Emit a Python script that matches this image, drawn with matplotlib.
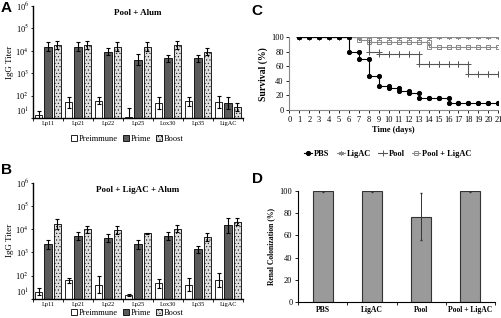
import numpy as np
import matplotlib
matplotlib.use("Agg")
import matplotlib.pyplot as plt
from matplotlib.patches import Patch
from matplotlib.lines import Line2D

plt.rcParams['font.family'] = ['Liberation Serif', 'DejaVu Serif']
plt.rcParams['mathtext.fontset'] = 'stix'
plt.rcParams['hatch.color'] = '#bdbdbd'
plt.rcParams['hatch.linewidth'] = 0.35

# ---------------- data ----------------
antigens = ["Lp11", "Lp21", "Lp22", "Lp25", "Lox30", "Lp35", "LigAC"]
groups_ab = ["Preimmune", "Prime", "Boost"]

# Panel A: Pool + Alum (IgG titer)
a_pre = [13, 51, 60, 11, 48, 55, 51]
a_prime = [15500, 15500, 9000, 4000, 4700, 4700, 48]
a_boost = [18000, 18000, 15500, 15500, 18000, 9000, 31]
# errors in log10 units (dex)
a_pre_err = [0.18, 0.25, 0.15, 0.40, 0.27, 0.20, 0.27]
a_prime_err = [0.20, 0.20, 0.15, 0.25, 0.16, 0.16, 0.27]
a_boost_err = [0.17, 0.17, 0.20, 0.19, 0.16, 0.16, 0.20]

# Panel B: Pool + LigAC + Alum
b_pre = [20, 62, 40, 14, 47, 40, 62]
b_prime = [2200, 5200, 4200, 2200, 5200, 1400, 15000]
b_boost = [17000, 10000, 9100, 6600, 10700, 4600, 21000]
b_pre_err = [0.16, 0.12, 0.37, 0.05, 0.20, 0.28, 0.30]
b_prime_err = [0.18, 0.18, 0.18, 0.18, 0.16, 0.15, 0.33]
b_boost_err = [0.20, 0.15, 0.17, 0.02, 0.15, 0.18, 0.15]

# Panel C: survival (%) per day
days = list(range(1, 22))
surv_pbs = [100, 100, 100, 100, 100, 80, 70, 46.7, 33.3, 30, 26.7, 23.3, 16.7, 16.7,
            16.7, 10, 10, 10, 10, 10, 10]
surv_ligac = [100] * 21
surv_pool = [100, 100, 100, 100, 100, 100, 100, 80, 76.7, 76.7, 76.7, 76.7, 63.3, 63.3,
             63.3, 63.3, 63.3, 50, 50, 50, 50]
surv_poolligac = [100, 100, 100, 100, 100, 100, 96.7, 93.3, 93.3, 93.3, 93.3, 93.3, 93.3,
                  86.7, 86.7, 86.7, 86.7, 86.7, 86.7, 86.7, 86.7]

# Panel D: renal colonization (%)
d_groups = ["PBS", "LigAC", "Pool", "Pool + LigAC"]
d_values = [100, 100, 77, 100]
d_err = [0.5, 0.5, 21, 0.5]

# ---------------- figure ----------------
fig = plt.figure(figsize=(5.01, 3.18), dpi=100)
W, H = 501, 318


def ax_px(l, t, r, b):
    return fig.add_axes([l / W, 1 - b / H, (r - l) / W, (b - t) / H])


bar_cols = ["white", "#5a5a5a", "#dedede"]
hatches = [None, None, "....."]


def titer_panel(ax, pre, prime, boost, epre, eprime, eboost, title, leg_y):
    x = np.arange(len(antigens))
    off = 0.31
    w = 0.25
    for k, (vals, errs) in enumerate([(pre, epre), (prime, eprime), (boost, eboost)]):
        v = np.array(vals, float)
        e = np.array(errs, float)
        lo = v * (1 - 10 ** (-e))
        hi = v * (10 ** e - 1)
        ax.bar(x + (k - 1) * off, v, w, color=bar_cols[k], edgecolor="black",
               linewidth=0.6, hatch=hatches[k],
               yerr=[lo, hi], error_kw=dict(ecolor="black", elinewidth=0.8,
                                            capsize=1.6, capthick=0.8))
    ax.set_yscale("log")
    ax.set_ylim(10, 1e6)
    ax.set_xlim(-0.5, len(antigens) - 0.5)
    ax.set_yticks([10, 1e2, 1e3, 1e4, 1e5, 1e6])
    labs = ax.set_yticklabels([r"10$^{%d}$" % i for i in range(1, 7)], fontsize=6)
    labs[0].set_va("bottom")
    ax.tick_params(axis="y", which="both", length=1.5, width=0.6, pad=1.5)
    ax.set_xticks(x)
    ax.set_xticklabels(antigens, fontsize=4.5)
    ax.set_xticks(np.arange(-0.5, len(antigens)), minor=True)
    ax.tick_params(axis="x", which="major", length=0, pad=2.5)
    ax.tick_params(axis="x", which="minor", length=2, width=0.6)
    for s in ["top", "right"]:
        ax.spines[s].set_visible(False)
    for s in ["left", "bottom"]:
        ax.spines[s].set_linewidth(1.0)
    ax.set_ylabel("IgG Titer", fontsize=6.5, labelpad=1)
    ax.text(0.5, 0.97, title, transform=ax.transAxes, ha="center", va="top",
            fontsize=6.5, fontweight="bold")
    handles = [Patch(facecolor=bar_cols[k], edgecolor="black", linewidth=0.6,
                     hatch=hatches[k], label=groups_ab[k])
               for k in range(3)]
    ax.legend(handles=handles, loc="upper center", bbox_to_anchor=(0.45, leg_y),
              ncol=3, frameon=False, fontsize=6, handlelength=0.7, handleheight=0.7,
              handletextpad=0.25, columnspacing=0.6, borderaxespad=0)


axA = ax_px(33, 6, 243, 118)
titer_panel(axA, a_pre, a_prime, a_boost, a_pre_err, a_prime_err, a_boost_err,
            "Pool + Alum", -0.12)
axB = ax_px(33, 183, 243, 298.7)
titer_panel(axB, b_pre, b_prime, b_boost, b_pre_err, b_prime_err, b_boost_err,
            "Pool + LigAC + Alum", -0.06)

# ---------------- panel C ----------------
axC = ax_px(289.3, 37.3, 498.3, 110)
series = [
    (surv_pbs, "PBS", "black", "o", 3.0, "black"),
    (surv_ligac, "LigAC", "#8a8a8a", (6, 2, 0), 3.5, "#8a8a8a"),
    (surv_pool, "Pool", "#555555", "+", 4.0, "#555555"),
    (surv_poolligac, "Pool + LigAC", "#8a8a8a", "s", 3.0, "none"),
]
for order, (vals, lab, col, mk, ms, mfc) in enumerate(series[::-1]):
    vals = np.array(vals, float)
    d = np.array(days, float)
    axC.plot(d, vals, drawstyle="steps-post", color=col, lw=0.8, zorder=2 + order)
    prev = np.concatenate([[vals[0]], vals[:-1]])
    mx = np.concatenate([d, d])
    my = np.concatenate([vals, prev])
    axC.plot(mx, my, ls="none", marker=mk, ms=ms, color=col, mfc=mfc,
             mec=col, mew=0.7, zorder=2 + order)
axC.set_xlim(0, 21)
axC.set_ylim(0, 100)
axC.set_xticks(range(0, 22))
axC.set_yticks(range(0, 101, 20))
axC.tick_params(labelsize=6, length=2, width=0.6, pad=2)
for s in ["top", "right"]:
    axC.spines[s].set_visible(False)
for s in ["left", "bottom"]:
    axC.spines[s].set_color("#888888")
axC.set_xlabel("Time (days)", fontsize=6, fontweight="bold", labelpad=2)
axC.set_ylabel("Survival (%)", fontsize=7, fontweight="bold", labelpad=2)
leg_handles = [Line2D([0], [0], color=col, lw=0.8, marker=mk, ms=ms, mfc=mfc,
                      mec=col, mew=0.7, label=lab)
               for (vals, lab, col, mk, ms, mfc) in series]
axC.legend(handles=leg_handles, loc="upper center", bbox_to_anchor=(0.47, -0.5),
           ncol=4, frameon=False, handlelength=1.0, handletextpad=0.2,
           columnspacing=0.9, borderaxespad=0, prop=dict(weight="bold", size=6))

# ---------------- panel D ----------------
axD = ax_px(298, 191, 495, 302)
xd = np.arange(len(d_groups))
axD.bar(xd, d_values, 0.41, color="#9a9a9a", edgecolor="#333333", linewidth=0.8,
        yerr=d_err, error_kw=dict(ecolor="#333333", elinewidth=0.7, capsize=0.8))
axD.set_xlim(-0.5, len(d_groups) - 0.5)
axD.set_ylim(0, 100)
axD.set_yticks(range(0, 101, 20))
axD.set_xticks(xd)
axD.set_xticklabels(d_groups, fontsize=5.5, fontweight="bold")
axD.set_xticks(np.arange(-0.5, len(d_groups)), minor=True)
axD.tick_params(axis="x", which="major", length=0, pad=3)
axD.tick_params(axis="x", which="minor", length=2, width=0.6)
axD.tick_params(axis="y", labelsize=6, length=2, width=0.6, pad=2)
for s in ["top", "right"]:
    axD.spines[s].set_visible(False)
axD.set_ylabel("Renal Colonization (%)", fontsize=5.5, fontweight="bold", labelpad=3)

# panel letters
for lab, (px, py) in zip("ABCD", [(1, 1), (1, 163), (251, 4), (252, 172)]):
    fig.text(px / W, 1 - py / H, lab, ha="left", va="top", fontsize=11,
             fontweight="bold", family=["Liberation Sans", "DejaVu Sans"])

fig.savefig("out.png", dpi=100)
